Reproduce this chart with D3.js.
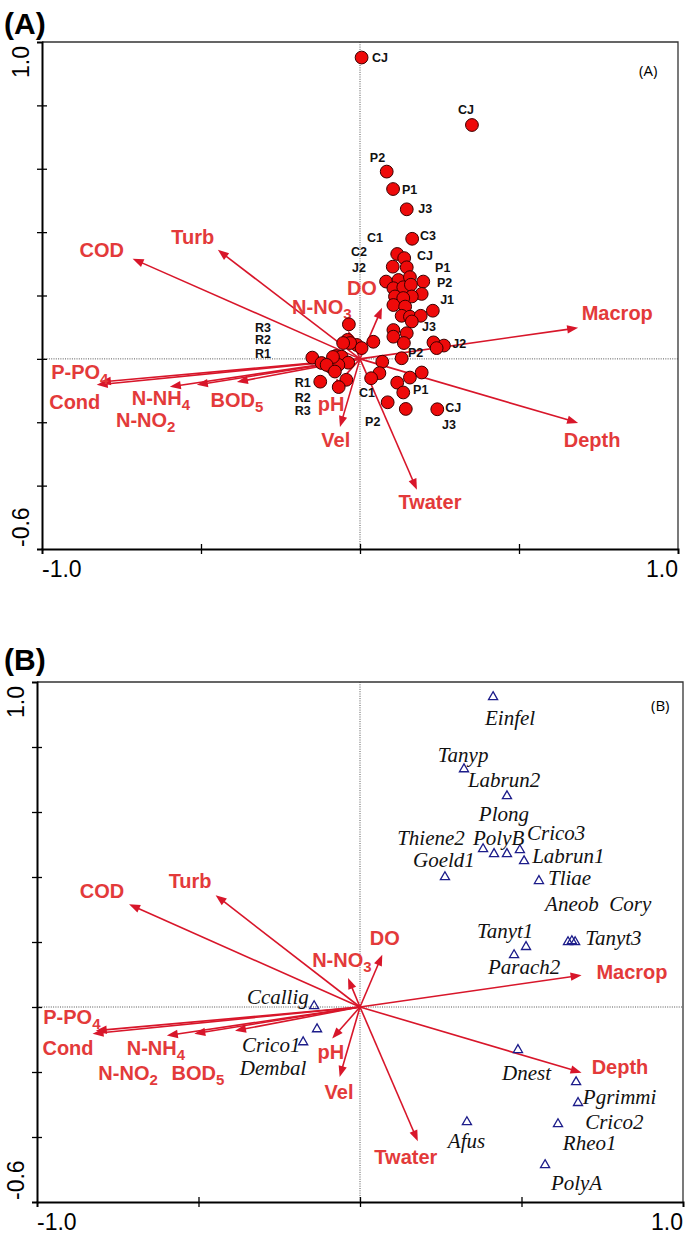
<!DOCTYPE html>
<html><head><meta charset="utf-8">
<script src="https://cdn.jsdelivr.net/npm/d3@7"></script>
<style>body{margin:0;background:#fff}svg{display:block}</style>
</head><body>
<script>
// ---------- DATA ----------
const envVars = ["COD","Turb","N-NO3","DO","Macrop","Depth","Twater","Vel","pH","P-PO4","Cond","N-NH4","N-NO2","BOD5"];
const envX = [-0.715,-0.447,-0.037,0.069,0.686,0.686,0.179,-0.063,-0.086,-0.818,-0.828,-0.598,-0.513,-0.387];
const envY = [0.316,0.344,0.089,0.161,0.098,-0.202,-0.413,-0.215,-0.097,-0.073,-0.082,-0.088,-0.082,-0.073];
// label anchors (panel A / panel B)
const envLabAX = [-0.812,-0.526,-0.120,0.006,0.809,0.730,0.220,-0.076,-0.091,-0.881,-0.897,-0.626,-0.674,-0.387];
const envLabAY = [0.344,0.385,0.164,0.224,0.145,-0.256,-0.451,-0.256,-0.142,-0.041,-0.136,-0.123,-0.192,-0.129];
const envLabBX = [-0.799,-0.526,-0.056,0.077,0.842,0.805,0.142,-0.065,-0.090,-0.892,-0.904,-0.632,-0.718,-0.502];
const envLabBY = [0.357,0.388,0.145,0.212,0.108,-0.185,-0.462,-0.262,-0.138,-0.031,-0.126,-0.126,-0.203,-0.203];

// Panel A sites
const siteX = [0.005,0.352,0.084,0.104,0.147,0.164,0.117,0.139,0.103,0.147,0.082,0.121,0.157,0.199,0.105,0.136,0.160,0.194,0.110,0.163,0.136,0.229,0.105,0.142,0.131,0.157,0.191,0.163,0.105,0.147,0.105,0.138,0.231,0.264,0.241,0.131,-0.035,-0.039,0.042,-0.010,-0.031,-0.150,-0.076,-0.058,-0.037,-0.094,-0.068,-0.125,-0.043,-0.067,0.070,0.061,0.035,0.194,0.157,0.117,0.136,0.087,0.144,0.243,0.005,-0.121,-0.085,-0.105,-0.079,-0.053];
const siteY = [0.951,0.738,0.591,0.536,0.472,0.379,0.331,0.318,0.291,0.289,0.244,0.249,0.258,0.244,0.223,0.226,0.234,0.205,0.197,0.197,0.192,0.152,0.170,0.165,0.136,0.133,0.136,0.118,0.091,0.081,0.070,0.050,0.052,0.042,0.034,0.002,0.109,0.060,0.054,0.044,0.050,0.004,0.009,0.007,-0.012,-0.024,-0.019,-0.072,-0.066,-0.089,-0.009,-0.045,-0.061,-0.043,-0.059,-0.075,-0.106,-0.137,-0.158,-0.159,0.034,-0.013,0.006,-0.019,-0.040,0.050];
const siteLabels = ["CJ","CJ","P2","P1","J3","C3","C1","C2","J2","CJ","P1","P2","J1","J3","J2","P2","C1","P1","CJ","J3","P2","R3","R2","R1","R1","R2","R3"];
const siteLabX = [0.038,0.308,0.031,0.132,0.183,0.189,0.022,-0.028,-0.025,0.179,0.236,0.242,0.252,0.195,0.290,0.151,-0.003,0.167,0.268,0.258,0.016,-0.330,-0.330,-0.330,-0.205,-0.205,-0.205];
const siteLabY = [0.950,0.786,0.637,0.533,0.473,0.388,0.382,0.338,0.287,0.325,0.287,0.240,0.186,0.101,0.050,0.019,-0.107,-0.098,-0.155,-0.208,-0.199,0.100,0.062,0.016,-0.076,-0.123,-0.164];

// Panel B species
const speciesX = [0.412,0.322,0.455,0.381,0.415,0.455,0.495,0.508,0.263,0.554,0.514,0.477,0.644,0.656,0.666,-0.142,-0.133,-0.176,0.489,0.669,0.675,0.613,0.331,0.573];
const speciesY = [0.954,0.732,0.649,0.486,0.471,0.471,0.483,0.449,0.400,0.388,0.185,0.160,0.200,0.203,0.200,0.003,-0.068,-0.108,-0.132,-0.231,-0.295,-0.360,-0.354,-0.486];
const speciesLabels = ["Einfel","Tanyp","Labrun2","Plong","Thiene2","PolyB","Crico3","Labrun1","Goeld1","Tliae","Aneob","Cory","Tanyt3","Tanyt1","Parach2","Ccallig","Crico1","Dembal","Dnest","Pgrimmi","Crico2","Rheo1","Afus","PolyA"];
const specLabX = [0.387,0.241,0.334,0.368,0.115,0.350,0.517,0.533,0.164,0.582,0.573,0.772,0.697,0.362,0.396,-0.350,-0.365,-0.372,0.440,0.690,0.697,0.628,0.272,0.591];
const specLabY = [0.889,0.775,0.698,0.591,0.520,0.520,0.535,0.464,0.452,0.395,0.314,0.314,0.212,0.231,0.123,0.028,-0.117,-0.188,-0.206,-0.277,-0.355,-0.420,-0.415,-0.542];

const xDomain = [-1, 1], yDomain = [-0.6, 1.0];
const xEndLabels = ["-1.0", "1.0"], yEndLabels = ["-0.6", "1.0"];
const yTicks = [-0.4,-0.2,0,0.2,0.4,0.6,0.8];
const xTicks = [-0.5,0,0.5];

// ---------- DRAW ----------
const svg = d3.select("body").append("svg").attr("width",685).attr("height",1235);
const ARROW = "#d8162a", LAB = "#e33a3a";

function drawPanel(o){
  const x = d3.scaleLinear().domain(xDomain).range([o.left,o.right]);
  const y = d3.scaleLinear().domain(yDomain).range([o.bottom,o.top]);
  const g = svg.append("g");
  g.append("text").attr("x",4).attr("y",o.titleY).text(o.title)
    .attr("font-family","Liberation Sans, Arial").attr("font-weight","bold").attr("font-size",30);
  g.append("line").attr("x1",x(0)).attr("x2",x(0)).attr("y1",o.top).attr("y2",o.bottom)
    .attr("stroke","#555").attr("stroke-dasharray","1,1.3").attr("stroke-width",1);
  g.append("line").attr("x1",o.left).attr("x2",o.right).attr("y1",y(0)).attr("y2",y(0))
    .attr("stroke","#555").attr("stroke-dasharray","1,1.3").attr("stroke-width",1);
  g.append("path").attr("d",`M${o.left},${o.top}H${o.right}V${o.bottom}`).attr("fill","none").attr("stroke","#333").attr("stroke-width",1.3);
  const ax = g.append("g").attr("transform",`translate(${o.left},0)`).call(d3.axisLeft(y).tickValues(yTicks).tickSize(5).tickFormat(""));
  ax.select(".domain").attr("stroke","#000").attr("stroke-width",2);
  ax.selectAll(".tick line").attr("x1",-5).attr("x2",5).attr("stroke-width",1.3);
  const bx = g.append("g").attr("transform",`translate(0,${o.bottom})`).call(d3.axisBottom(x).tickValues(xTicks).tickSize(5).tickFormat(""));
  bx.select(".domain").attr("stroke","#000").attr("stroke-width",2);
  bx.selectAll(".tick line").attr("y1",-5).attr("y2",5).attr("stroke-width",1.3);
  const t1 = g.append("text").attr("x",x(xDomain[0])).attr("y",o.bottom+28).attr("text-anchor","start").text(xEndLabels[0]);
  const t2 = g.append("text").attr("x",x(xDomain[1])).attr("y",o.bottom+28).attr("text-anchor","end").text(xEndLabels[1]);
  const t3 = g.append("text").attr("transform",`translate(${o.left-13},${y(yDomain[0])-2}) rotate(-90)`).attr("text-anchor","start").text(yEndLabels[0]);
  const t4 = g.append("text").attr("transform",`translate(${o.left-13},${y(yDomain[1])+4}) rotate(-90)`).attr("text-anchor","end").text(yEndLabels[1]);
  [t1,t2,t3,t4].forEach(t=>t.attr("font-family","Liberation Sans, Arial").attr("font-size",23));
  g.append("text").attr("x",o.tagX).attr("y",o.tagY).text(o.title)
    .attr("font-family","Open Sans, Liberation Sans").attr("font-size",15);
  return {g,x,y};
}

function drawEnv(p, labX, labY){
  const {g,x,y} = p;
  const x0 = x(0), y0 = y(0);
  envVars.forEach((v,i)=>{
    const x1 = x(envX[i]), y1 = y(envY[i]);
    const dx = x1-x0, dy = y1-y0, L = Math.hypot(dx,dy), ux = dx/L, uy = dy/L;
    const hl = 11, hw = 4.2;
    const bx = x1-ux*hl, by = y1-uy*hl;
    g.append("line").attr("x1",x0).attr("y1",y0).attr("x2",bx+ux*2).attr("y2",by+uy*2)
      .attr("stroke",ARROW).attr("stroke-width",1.6);
    g.append("path").attr("d",`M${x1},${y1}L${bx-uy*hw},${by+ux*hw}L${bx+uy*hw},${by-ux*hw}Z`).attr("fill",ARROW);
  });
  envVars.forEach((v,i)=>{
    const m = v.match(/^(.*?)(\d)$/);
    const t = g.append("text").attr("x",x(labX[i])).attr("y",y(labY[i])+7).attr("text-anchor","middle")
      .attr("font-family","Liberation Sans, Arial").attr("font-weight","bold").attr("font-size",20).attr("fill",LAB);
    if(m){ t.append("tspan").text(m[1]); t.append("tspan").attr("font-size",15).attr("dy",5).text(m[2]); }
    else t.text(v);
  });
}

// Panel A
const A = drawPanel({left:42,right:678,top:42,bottom:549,title:"(A)",titleY:34,tagX:639,tagY:76});
drawEnv(A, envLabAX, envLabAY);
A.g.selectAll("circle.site").data(siteX).enter().append("circle").attr("class","site")
  .attr("cx",(d)=>A.x(d)).attr("cy",(d,i)=>A.y(siteY[i])).attr("r",6.4)
  .attr("fill","#ee0a0a").attr("stroke","#3a0000").attr("stroke-width",1);
A.g.selectAll("text.sl").data(siteLabels).enter().append("text").attr("class","sl")
  .attr("x",(d,i)=>A.x(siteLabX[i])).attr("y",(d,i)=>A.y(siteLabY[i])+4.5).text(d=>d)
  .attr("font-family","Liberation Sans, Arial").attr("font-weight","bold").attr("font-size",12.5).attr("fill","#111");

// Panel B
const B = drawPanel({left:37,right:683,top:682,bottom:1202,title:"(B)",titleY:670,tagX:651,tagY:711});
drawEnv(B, envLabBX, envLabBY);
const tri = d3.symbol().type(d3.symbolTriangle).size(36);
B.g.selectAll("path.sp").data(speciesX).enter().append("path").attr("class","sp")
  .attr("d",tri).attr("transform",(d,i)=>`translate(${B.x(d)},${B.y(speciesY[i])})`)
  .attr("fill","none").attr("stroke","#1c1c8a").attr("stroke-width",1.3);
B.g.selectAll("text.spl").data(speciesLabels).enter().append("text").attr("class","spl")
  .attr("x",(d,i)=>B.x(specLabX[i])).attr("y",(d,i)=>B.y(specLabY[i])+6.5).text(d=>d)
  .attr("font-family","Liberation Serif, Times New Roman").attr("font-style","italic").attr("font-size",21).attr("fill","#111");
</script>
</body></html>
